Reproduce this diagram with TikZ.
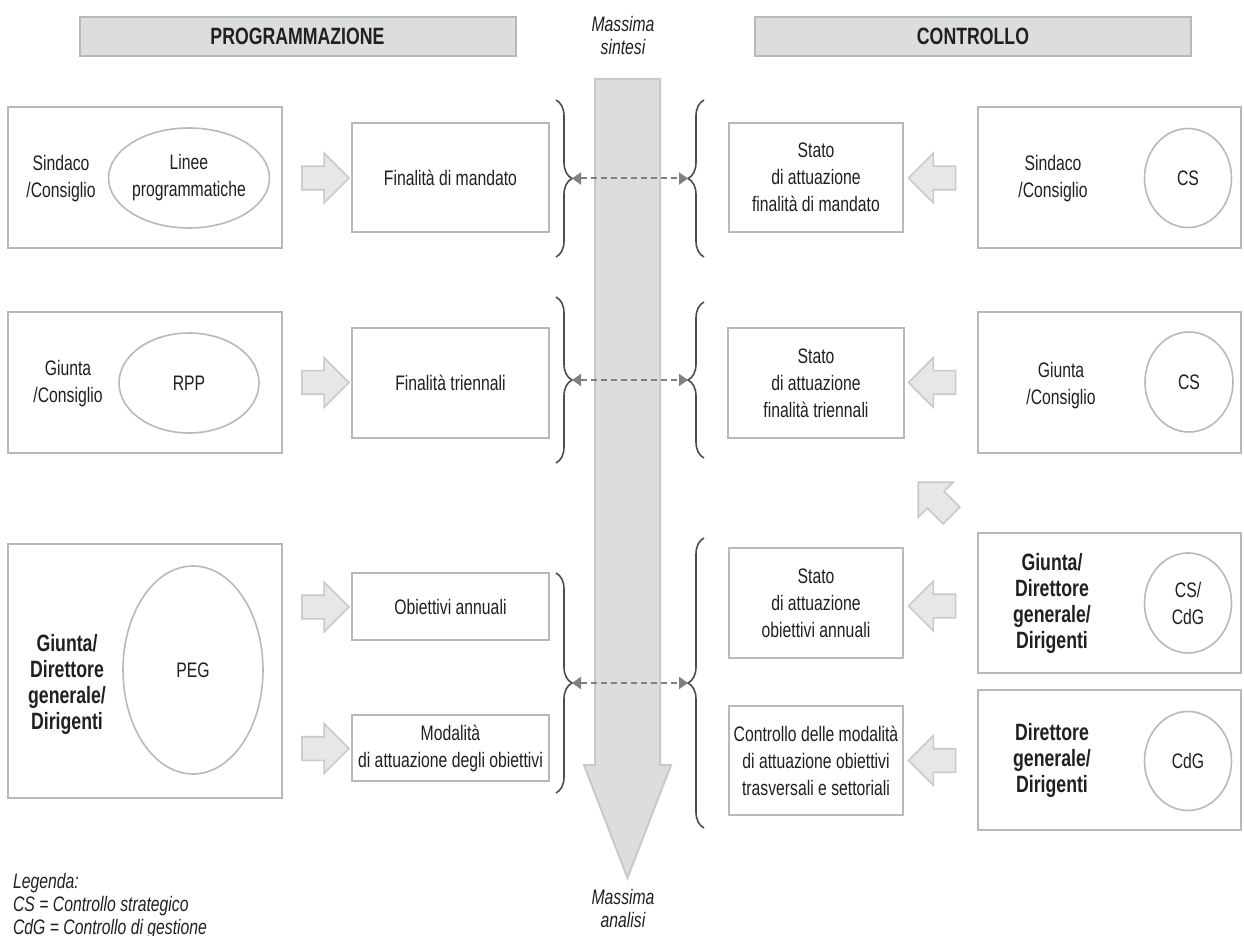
\documentclass[tikz,border=0pt]{standalone}
\usepackage{fontspec}
\setmainfont{Liberation Sans}[FakeStretch=0.75]
\usetikzlibrary{arrows.meta,decorations.pathreplacing,shapes.geometric,shapes.arrows}

\definecolor{ink}{HTML}{231F20}
\definecolor{boxgray}{HTML}{B8B9BB}
\definecolor{bandgray}{HTML}{DCDDDF}
\definecolor{arrowfill}{HTML}{E6E7E8}
\definecolor{arrowline}{HTML}{C8C9CB}
\definecolor{bracegray}{HTML}{4D4D4F}
\definecolor{dashgray}{HTML}{808083}

\tikzset{
  txt/.style={font=\fontsize{10.5}{13.5}\selectfont, text=ink, align=center},
  boldtxt/.style={txt, font=\fontsize{11.8}{13}\selectfont\bfseries},
  itxt/.style={txt, font=\fontsize{10.5}{11.5}\selectfont\itshape},
  box/.style={txt, draw=boxgray, line width=1pt, fill=white, inner sep=1pt},
  oval/.style={txt, ellipse, draw=boxgray, line width=0.8pt, inner sep=0pt},
  band/.style={draw=boxgray, line width=1pt, fill=bandgray, minimum width=218pt,
    minimum height=19.5pt, font=\fontsize{11.8}{13}\selectfont\bfseries, text=ink},
  blockarrow/.style={single arrow, draw=arrowline, fill=arrowfill, line width=0.8pt,
    minimum height=23.5pt, single arrow head extend=6.5pt, inner xsep=0pt, inner ysep=5.5pt},
  curly/.style={decorate, decoration={brace, amplitude=8pt}, draw=bracegray, line width=0.8pt},
  linkdash/.style={draw=dashgray, line width=1pt, dash pattern=on 3pt off 2pt,
    {Triangle[length=4.5pt,width=6pt]}-{Triangle[length=4.5pt,width=6pt]}},
}

\begin{document}
\begin{tikzpicture}[x=0.5pt, y=-0.5pt]
  \useasboundingbox (0,0) rectangle (1244,936);

  % === Headers ===
  \node[band] (prog) at (297.5,36.5) {PROGRAMMAZIONE};
  \node[band] (ctrl) at (973,36.5) {CONTROLLO};
  \node[itxt] (sintesi) at (623,35.5) {Massima\\sintesi};

  % === Central axis: from synthesis to analysis ===
  \draw[draw=arrowline, fill=bandgray, line width=1pt]
    (595,79) -- (660,79) -- (660,765) -- (671,765) -- (627.5,878)
    -- (584,765) -- (595,765) -- cycle;
  \node[itxt] (analisi) at (623,908.5) {Massima\\analisi};

  % === Left panel: programmazione ===
  % Row 1
  \node[box, minimum width=137pt, minimum height=70.5pt] (who1) at (145,177.5) {};
  \node[txt] (who1t) at (61,179) {Sindaco\\/Consiglio};
  \node[oval, minimum width=70pt, minimum height=50pt] (doc1) at (189,178) {Linee\\programmatiche};
  \node[box, minimum width=98.5pt, minimum height=54.5pt] (out1) at (450.5,177.5) {Finalità di mandato};
  % Row 2
  \node[box, minimum width=137pt, minimum height=70.5pt] (who2) at (145,382.5) {};
  \node[txt] (who2t) at (68,384) {Giunta\\/Consiglio};
  \node[oval, minimum width=70pt, minimum height=50pt] (doc2) at (189,383) {RPP};
  \node[box, minimum width=98.5pt, minimum height=55pt] (out2) at (450.5,383) {Finalità triennali};
  % Row 3
  \node[box, minimum width=137pt, minimum height=127pt] (who3) at (145,671) {};
  \node[boldtxt] (who3t) at (67,684) {Giunta/\\Direttore\\generale/\\Dirigenti};
  \node[oval, minimum width=70pt, minimum height=104pt] (doc3) at (193,670) {PEG};
  \node[box, minimum width=98.5pt, minimum height=33.5pt] (out3) at (450.5,606.5) {Obiettivi annuali};
  \node[box, minimum width=98.5pt, minimum height=33pt] (out4) at (450.5,748) {Modalità\\di attuazione degli obiettivi};
  % Block arrows
  \foreach \n/\y in {1/178, 2/382.5, 3/607, 4/748.5} {
    \node[blockarrow] (pa\n) at (319.5,\y) {};
  }

  % === Right panel: controllo ===
  % Row 1
  \node[box, minimum width=87pt, minimum height=54.5pt] (st1) at (816,177.5) {Stato\\di attuazione\\finalità di mandato};
  \node[box, minimum width=131.5pt, minimum height=70.5pt] (chk1) at (1109.5,177.5) {};
  \node[txt] (chk1t) at (1053,179) {Sindaco\\/Consiglio};
  \node[oval, minimum width=43.5pt, minimum height=49.5pt] (cs1) at (1188,178) {CS};
  % Row 2
  \node[box, minimum width=88pt, minimum height=55pt] (st2) at (816,383) {Stato\\di attuazione\\finalità triennali};
  \node[box, minimum width=131.5pt, minimum height=70.5pt] (chk2) at (1109.5,382.5) {};
  \node[txt] (chk2t) at (1061,386) {Giunta\\/Consiglio};
  \node[oval, minimum width=44pt, minimum height=50pt] (cs2) at (1189,382) {CS};
  % Row 3
  \node[box, minimum width=87pt, minimum height=55pt] (st3) at (816,603) {Stato\\di attuazione\\obiettivi annuali};
  \node[box, minimum width=131.5pt, minimum height=70pt] (chk3) at (1109.5,603) {};
  \node[boldtxt] (chk3t) at (1052,603) {Giunta/\\Direttore\\generale/\\Dirigenti};
  \node[oval, minimum width=43.5pt, minimum height=50pt] (cs3) at (1188,603) {CS/\\CdG};
  % Row 4
  \node[box, minimum width=87pt, minimum height=54.5pt] (st4) at (816,760.5) {Controllo delle modalità\\di attuazione obiettivi\\trasversali e settoriali};
  \node[box, minimum width=131.5pt, minimum height=70pt] (chk4) at (1109.5,760) {};
  \node[boldtxt] (chk4t) at (1052,760) {Direttore\\generale/\\Dirigenti};
  \node[oval, minimum width=43.5pt, minimum height=49.5pt] (cs4) at (1188,761) {CdG};
  % Block arrows (pointing left)
  \foreach \n/\y in {1/178, 2/382.5, 3/606, 4/760.5} {
    \node[blockarrow, rotate=180] (ca\n) at (938,\y) {};
  }
  \node[blockarrow, rotate=135] (caup) at (939,503) {};

  % === Braces and links across the axis ===
  \foreach \n/\ya/\yb in {1/100/257, 2/297/463, 3/573/793} {
    \draw[curly] (556,\ya) -- (556,\yb);
  }
  \foreach \n/\ya/\yb in {1/100/257, 2/302/458, 3/538/828} {
    \draw[curly] (704,\yb) -- (704,\ya);
  }
  \coordinate (l1) at (572,178.5); \coordinate (r1) at (688,178.5);
  \coordinate (l2) at (572,380);   \coordinate (r2) at (688,380);
  \coordinate (l3) at (572,683);   \coordinate (r3) at (688,683);
  \draw[linkdash] (l1) -- (r1);
  \draw[linkdash] (l2) -- (r2);
  \draw[linkdash] (l3) -- (r3);

  % Legend
  \node[itxt, anchor=west, align=left] (key) at (6,906) {Legenda:\\CS = Controllo strategico\\CdG = Controllo di gestione};
\end{tikzpicture}
\end{document}
